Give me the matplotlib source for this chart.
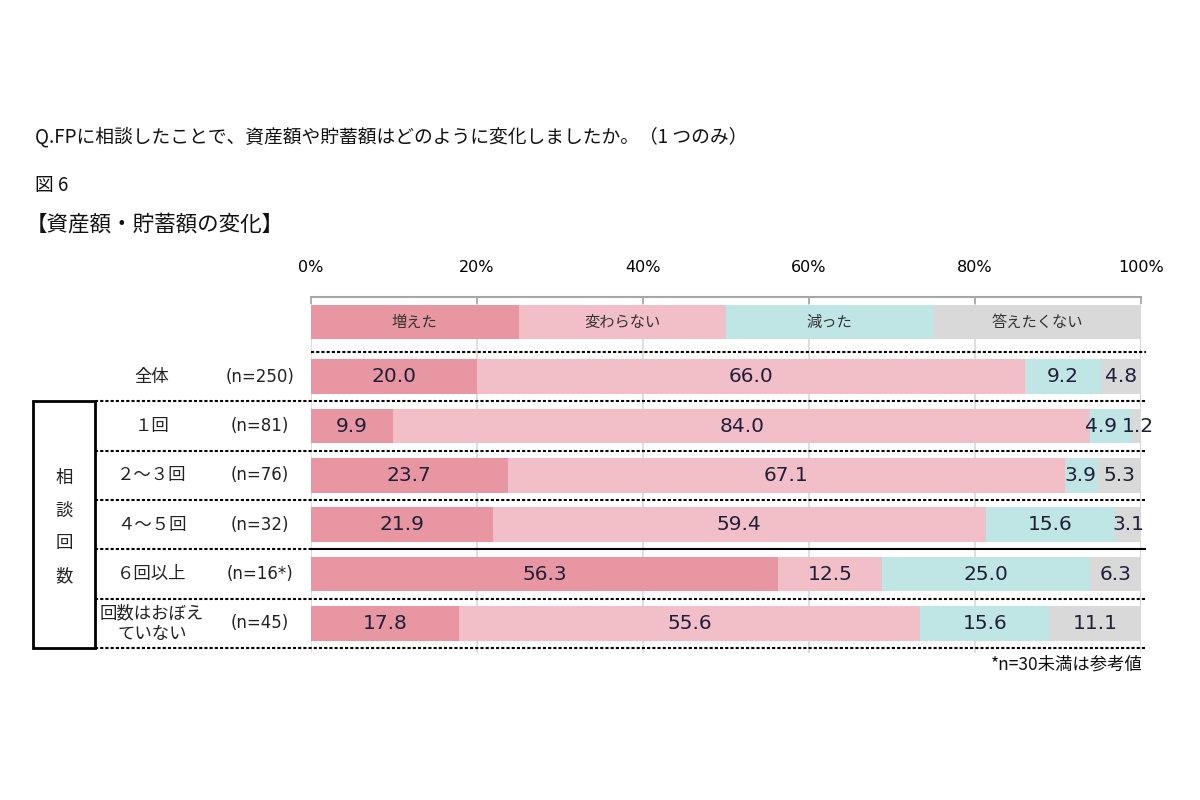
import matplotlib
matplotlib.use('Agg')
import matplotlib.pyplot as plt
from matplotlib.patches import Rectangle
import numpy as np

plt.rcParams['font.family'] = ['Noto Sans CJK JP', 'DejaVu Sans']

# data
answers = ['増えた', '変わらない', '減った', '答えたくない']
colors = ['#E796A2', '#F2BFC8', '#C0E5E5', '#D9D9D9']
groups = ['全体', '１回', '２～３回', '４～５回', '６回以上', '回数はおぼえ\nていない']
n_labels = ['(n=250)', '(n=81)', '(n=76)', '(n=32)', '(n=16*)', '(n=45)']
inc = [20.0, 9.9, 23.7, 21.9, 56.3, 17.8]
same = [66.0, 84.0, 67.1, 59.4, 12.5, 55.6]
dec = [9.2, 4.9, 3.9, 15.6, 25.0, 15.6]
noans = [4.8, 1.2, 5.3, 3.1, 6.3, 11.1]
series = [inc, same, dec, noans]

W, H = 1200, 800
fig = plt.figure(figsize=(12, 8), dpi=100)

# axes placed in pixel terms
pitch = (648 - 352) / 6
row0 = 352 + pitch / 2
ytop = (297 - row0) / pitch
ybot = 5.6
ax = fig.add_axes([311 / W, 1 - (row0 + ybot * pitch) / H, 830 / W, (ybot - ytop) * pitch / H])
ax.set_xlim(0, 100)
ax.set_ylim(ybot, ytop)

bar_h = 0.70
ypos = np.arange(len(groups))

# legend strip drawn as a bar row
leg_y = (322 - row0) / pitch
for k, (lab, c) in enumerate(zip(answers, colors)):
    ax.barh(leg_y, 25, left=25 * k, height=bar_h, color=c, zorder=3)
    ax.text(25 * k + 12.5, leg_y, lab, ha='center', va='center', fontsize=11, color='#333333', zorder=4)

vstyle = dict(va='center', fontsize=14.5, family='DejaVu Sans', color='#1F1F3A', zorder=4)
left = np.zeros(len(groups))
for si, (vals, c) in enumerate(zip(series, colors)):
    vals = np.array(vals)
    ax.barh(ypos, vals, left=left, height=bar_h, color=c, zorder=3)
    for r, (y, l, v) in enumerate(zip(ypos, left, vals)):
        last_tiny = noans[r] < 2
        if si == 3 and last_tiny:
            # tiny last segment: label spills past the bar end
            ax.text(l - 1.1, y, f'{v:.1f}', ha='left', **vstyle)
        elif si == 2 and last_tiny:
            ax.text(l + v - 1.7, y, f'{v:.1f}', ha='right', **vstyle)
        else:
            ax.text(l + v / 2, y, f'{v:.1f}', ha='center', **vstyle)
    left += vals

# top axis
for s in ['left', 'right', 'bottom']:
    ax.spines[s].set_visible(False)
ax.spines['top'].set_color('#A6A6A6')
ax.spines['top'].set_linewidth(1.5)
ax.xaxis.tick_top()
ax.set_xticks([0, 20, 40, 60, 80, 100])
ax.set_xticklabels(['0%', '20%', '40%', '60%', '80%', '100%'], family='DejaVu Sans', fontsize=11.5)
ax.tick_params(axis='x', direction='in', length=5, color='#A6A6A6', width=1.2, pad=16)
ax.set_yticks([])
ax.grid(axis='x', color='#D9D9D9', linewidth=1.2, zorder=0)
ax.axvline(100, color='#BFBFBF', linewidth=1.2, zorder=1)

# row separators
xl = (95 - 311) / 8.3
xbox = (33 - 311) / 8.3
dots = (0, (1.5, 1))
ax.hlines(-0.5, 0, 100.6, colors='black', linestyles=dots, linewidth=1.5, clip_on=False)
for b in [0.5, 1.5, 2.5, 4.5, 5.5]:
    ax.hlines(b, xl, 100.6, colors='black', linestyles=dots, linewidth=1.5, clip_on=False)
ax.hlines(3.5, xl, 0, colors='black', linestyles=dots, linewidth=1.5, clip_on=False)
ax.hlines(3.5, 0, 100.6, colors='black', linewidth=1.5, clip_on=False)

# group box on the left
ax.add_patch(Rectangle((xbox, 0.5), xl - xbox, 5.0, fill=False, edgecolor='black',
                       linewidth=2, clip_on=False))
ax.text((xbox + xl) / 2, 3.05, '相\n談\n回\n数', ha='center', va='center', fontsize=12.5,
        linespacing=2.05, color='#222222')

# row labels
for y, g, n in zip(ypos, groups, n_labels):
    ax.text((152 - 311) / 8.3, y, g, ha='center', va='center', fontsize=12.5,
            linespacing=1.2, color='#222222')
    ax.text((260 - 311) / 8.3, y, n, ha='center', va='center', fontsize=12,
            family='DejaVu Sans', color='#222222')

# titles and note
fig.text(35 / W, 1 - 137 / H, 'Q.FPに相談したことで、資産額や貯蓄額はどのように変化しましたか。（1 つのみ）',
         ha='left', va='center', fontsize=13.5, color='#111111')
fig.text(35 / W, 1 - 185 / H, '図 6', ha='left', va='center', fontsize=13.5, color='#111111')
fig.text(26 / W, 1 - 225 / H, '【資産額・貯蓄額の変化】', ha='left', va='center', fontsize=15.5, color='#111111')
fig.text(1143 / W, 1 - 665 / H, '*n=30未満は参考値', ha='right', va='center', fontsize=12.5, color='#111111')

fig.savefig('out.png', dpi=100)
